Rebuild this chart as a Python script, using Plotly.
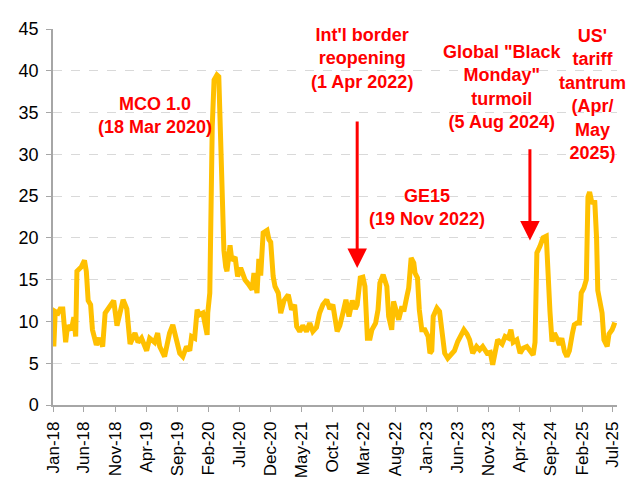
import plotly.graph_objects as go

dates = [
    "2018-01-05", "2018-01-12", "2018-01-26", "2018-02-05", "2018-02-18", "2018-03-04", "2018-03-13",
    "2018-04-01", "2018-04-13", "2018-04-22", "2018-04-28", "2018-05-19", "2018-06-04", "2018-06-13",
    "2018-06-22", "2018-07-04", "2018-07-13", "2018-08-01", "2018-08-16", "2018-09-01", "2018-09-13",
    "2018-10-07", "2018-10-25", "2018-11-10", "2018-11-25", "2018-12-10", "2018-12-28", "2019-01-13",
    "2019-02-06", "2019-02-21", "2019-03-10", "2019-04-04", "2019-04-19", "2019-05-13", "2019-05-28",
    "2019-06-07", "2019-07-01", "2019-07-25", "2019-08-10", "2019-08-28", "2019-09-13", "2019-09-28",
    "2019-10-16", "2019-11-01", "2019-11-10", "2019-11-25", "2019-12-07", "2019-12-19", "2020-01-04",
    "2020-01-25", "2020-01-28", "2020-02-07", "2020-02-13", "2020-02-19", "2020-02-28", "2020-03-13",
    "2020-03-22", "2020-04-01", "2020-04-07", "2020-04-16", "2020-04-25", "2020-05-01", "2020-05-16",
    "2020-05-25", "2020-06-10", "2020-06-22", "2020-07-07", "2020-07-28", "2020-08-13", "2020-09-01",
    "2020-09-10", "2020-09-25", "2020-10-04", "2020-10-13", "2020-10-25", "2020-11-13", "2020-11-22",
    "2020-12-01", "2020-12-13", "2020-12-22", "2021-01-07", "2021-01-19", "2021-02-04", "2021-02-25",
    "2021-03-13", "2021-03-28", "2021-04-07", "2021-04-22", "2021-05-07", "2021-05-25", "2021-06-10",
    "2021-06-25", "2021-07-13", "2021-07-28", "2021-08-13", "2021-09-01", "2021-09-16", "2021-10-01",
    "2021-10-22", "2021-11-04", "2021-11-19", "2021-12-04", "2021-12-19", "2022-01-04", "2022-01-19",
    "2022-01-28", "2022-02-12", "2022-02-25", "2022-03-07", "2022-03-16", "2022-03-19", "2022-04-01",
    "2022-04-10", "2022-04-28", "2022-05-10", "2022-05-19", "2022-06-04", "2022-06-22", "2022-07-01",
    "2022-07-16", "2022-07-25", "2022-08-10", "2022-08-19", "2022-09-04", "2022-09-13", "2022-09-28",
    "2022-10-07", "2022-10-19", "2022-11-01", "2022-11-07", "2022-11-19", "2022-11-28", "2022-12-10",
    "2022-12-25", "2023-01-10", "2023-01-19", "2023-01-28", "2023-02-04", "2023-02-22", "2023-03-07",
    "2023-03-19", "2023-04-01", "2023-04-16", "2023-05-01", "2023-05-19", "2023-06-04", "2023-06-19",
    "2023-07-04", "2023-07-19", "2023-08-01", "2023-08-16", "2023-09-04", "2023-09-19", "2023-10-04",
    "2023-10-25", "2023-11-10", "2023-11-22", "2023-12-04", "2023-12-16", "2024-01-07", "2024-01-22",
    "2024-02-07", "2024-02-19", "2024-03-01", "2024-03-19", "2024-04-04", "2024-04-19", "2024-05-07",
    "2024-05-22", "2024-06-07", "2024-06-16", "2024-06-25", "2024-07-10", "2024-07-25", "2024-08-10",
    "2024-08-19", "2024-08-28", "2024-09-07", "2024-09-19", "2024-10-01", "2024-10-13", "2024-10-25",
    "2024-11-07", "2024-11-19", "2024-12-01", "2024-12-16", "2024-12-25", "2025-01-07", "2025-01-19",
    "2025-01-28", "2025-02-10", "2025-02-22", "2025-02-28", "2025-03-02", "2025-03-10", "2025-03-22",
    "2025-04-04", "2025-04-13", "2025-04-19", "2025-04-28", "2025-05-10", "2025-05-19", "2025-06-04",
    "2025-06-13", "2025-06-28", "2025-07-07", "2025-07-19",
]

values = [
    7.0, 11.2, 11.0, 11.5, 11.5, 7.5, 9.5,
    9.0, 10.5, 8.2, 16.0, 16.5, 17.3, 16.0,
    12.5, 12.0, 9.0, 7.2, 8.0, 7.0, 11.0,
    11.8, 12.5, 9.5, 11.0, 12.6, 11.5, 7.3,
    8.6, 7.5, 8.0, 6.5, 8.0, 7.5, 8.6,
    7.0, 5.8, 8.6, 9.6, 7.8, 6.2, 5.8,
    7.0, 6.5, 8.2, 8.0, 11.4, 10.8, 11.0,
    8.4, 11.0, 13.4, 26.0, 33.3, 38.9, 39.5,
    39.3, 31.3, 23.3, 18.5, 16.5, 16.0, 19.1,
    17.3, 17.7, 15.4, 16.4, 15.0, 14.5, 13.8,
    15.8, 13.4, 17.5, 15.5, 20.6, 20.9, 19.8,
    19.5, 15.4, 14.2, 13.4, 11.0, 12.5, 13.2,
    11.4, 12.0, 9.4, 8.8, 9.5, 8.8, 9.8,
    8.8, 9.3, 11.0, 12.0, 12.6, 11.5, 12.0,
    8.8, 9.5, 11.0, 12.6, 10.6, 12.5, 11.5,
    12.0, 15.2, 15.3, 14.2, 10.5, 8.0, 8.0,
    9.0, 9.8, 11.4, 14.6, 15.6, 14.2, 10.6,
    9.0, 12.4, 11.0, 10.2, 11.8, 11.2, 13.0,
    14.0, 17.6, 17.0, 15.8, 15.2, 11.4, 9.0,
    9.0, 8.2, 6.2, 6.5, 10.6, 11.6, 11.2,
    9.0, 6.2, 5.6, 6.0, 6.5, 7.6, 8.4,
    9.0, 8.5, 7.8, 6.2, 7.0, 6.6, 7.0,
    6.2, 6.3, 4.8, 6.5, 7.8, 7.3, 8.2,
    8.0, 9.0, 7.5, 7.8, 6.2, 6.8, 7.0,
    6.5, 6.0, 7.5, 18.2, 19.0, 20.0, 20.2,
    14.2, 11.2, 7.6, 8.6, 8.0, 7.2, 8.0,
    6.4, 5.8, 6.5, 8.6, 9.6, 9.8, 9.8,
    13.4, 14.0, 15.0, 20.1, 24.9, 25.5, 24.1,
    24.5, 20.0, 13.7, 12.2, 11.0, 7.8, 7.0,
    8.5, 9.0, 9.6, 9.5,
]

RED = "#FF0000"
FONT = "Liberation Sans, Arial, sans-serif"

fig = go.Figure()
fig.add_trace(go.Scatter(
    x=dates, y=values, mode="lines",
    line=dict(color="#FFC000", width=5),
    showlegend=False, hoverinfo="x+y",
))

text_notes = [
    ("2019-05-13", 34.6, "MCO 1.0<br>(18 Mar 2020)"),
    ("2022-02-21", 41.5, "Int'l border<br>reopening<br>(1 Apr 2022)"),
    ("2023-01-04", 23.6, "GE15<br>(19 Nov 2022)"),
    ("2024-01-10", 38.1, "Global \"Black<br>Monday\"<br>turmoil<br>(5 Aug 2024)"),
    ("2025-03-22", 37.2, "US'<br>tariff<br>tantrum<br>(Apr/<br>May<br>2025)"),
]
for x, y, t in text_notes:
    fig.add_annotation(x=x, y=y, text=t, showarrow=False, xanchor="center", yanchor="middle",
                       align="center", font=dict(family=FONT, size=18, color=RED, weight="bold"))

arrows = [
    ("2022-01-28", 16.4, 34.1),
    ("2024-05-22", 19.7, 30.8),
]
for x, tip, tail in arrows:
    fig.add_annotation(x=x, y=tip, ax=x, ay=tail, axref="x", ayref="y", xref="x", yref="y",
                       text="", showarrow=True, arrowhead=2, arrowsize=1.3, arrowwidth=3,
                       arrowcolor=RED)

# the page body has an 8px margin: the figure starts at (8, 8) and is sized to reach the window edges
fig.update_layout(
    width=636, height=476, autosize=False,
    margin=dict(l=45, r=27, t=21, b=79),
    paper_bgcolor="white", plot_bgcolor="white",
    font=dict(family=FONT, size=18, color="#000000"),
)
fig.update_xaxes(
    type="date", range=["2018-01-01", "2025-07-22"],
    tick0="2018-01-01", dtick="M5", tickformat="%b-%y", tickangle=-90,
    ticks="outside", ticklen=5, tickcolor="#A6A6A6", tickwidth=1,
    showline=True, linecolor="#A6A6A6", linewidth=1.5,
    showgrid=False, zeroline=False, automargin=False, ticklabelstandoff=3,
    tickfont=dict(family=FONT, size=17, color="#000000"),
)
fig.update_yaxes(
    range=[0, 45], dtick=5, tick0=0,
    ticks="outside", ticklen=5, tickcolor="#A6A6A6", tickwidth=1,
    showline=True, linecolor="#A6A6A6", linewidth=1.5,
    showgrid=True, gridcolor="#D9D9D9", griddash="dash", gridwidth=1,
    zeroline=False, automargin=False, ticklabelstandoff=4,
    tickfont=dict(family=FONT, size=18, color="#000000"),
)

fig.write_html("out.html")
